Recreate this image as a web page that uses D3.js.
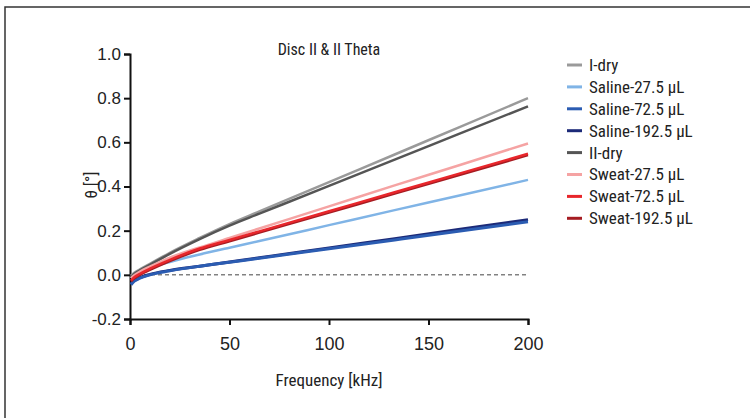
<!DOCTYPE html>
<html>
<head>
<meta charset="utf-8">
<script src="https://cdn.jsdelivr.net/npm/d3@7"></script>
<style>
  body { margin: 0; background: #fff; }
  svg { display: block; font-family: "Liberation Sans Narrow", "Roboto Condensed", "Liberation Sans", sans-serif; }
</style>
</head>
<body>
<svg id="chart" width="750" height="418"></svg>
<script>
// frequencies (kHz)
const freq = [0.5, 2, 5, 10, 20, 35, 50, 65, 100, 133, 165, 200]

const seriesNames = ["I-dry", "Saline-27.5 µL", "Saline-72.5 µL", "Saline-192.5 µL",
                     "II-dry", "Sweat-27.5 µL", "Sweat-72.5 µL", "Sweat-192.5 µL"]
const seriesColors = ["#9a9a9a", "#80b4e6", "#2b5cb2", "#1c2a78",
                      "#555555", "#f5a3a3", "#e8262b", "#a51c22"]

const iDry       = [-0.005, 0.008, 0.025, 0.05, 0.1, 0.167, 0.23, 0.287, 0.42, 0.545, 0.667, 0.80]
const saline27   = [-0.015, -0.003, 0.012, 0.03, 0.058, 0.092, 0.123, 0.153, 0.225, 0.293, 0.358, 0.43]
const saline72   = [-0.045, -0.03, -0.015, 0.0, 0.018, 0.039, 0.057, 0.075, 0.118, 0.158, 0.197, 0.24]
const saline192  = [-0.04, -0.027, -0.013, 0.002, 0.02, 0.039, 0.058, 0.077, 0.122, 0.164, 0.205, 0.25]
const iiDry      = [-0.01, 0.003, 0.02, 0.045, 0.095, 0.162, 0.223, 0.277, 0.403, 0.522, 0.637, 0.763]
const sweat27    = [-0.015, -0.003, 0.015, 0.037, 0.078, 0.124, 0.167, 0.21, 0.31, 0.405, 0.495, 0.595]
const sweat72    = [-0.025, -0.012, 0.005, 0.028, 0.068, 0.119, 0.158, 0.197, 0.288, 0.374, 0.457, 0.548]
const sweat192   = [-0.03, -0.017, 0.0, 0.022, 0.062, 0.113, 0.152, 0.191, 0.282, 0.368, 0.451, 0.542]

const seriesValues = [iDry, saline27, saline72, saline192, iiDry, sweat27, sweat72, sweat192]
// paint order: darker variants under their neighbours
const drawOrder = [0, 1, 3, 2, 4, 5, 7, 6]

const xTicks = [0, 50, 100, 150, 200]
const yTicks = [-0.2, 0.0, 0.2, 0.4, 0.6, 0.8, 1.0]

const svg = d3.select("#chart")

// frame (only top and left edges visible)
svg.append("path")
    .attr("d", "M5,418 V7 H750")
    .attr("fill", "none")
    .attr("stroke", "#333")
    .attr("stroke-width", 1.5)

const x = d3.scaleLinear().domain([0, 200]).range([130, 528])
const y = d3.scaleLinear().domain([-0.2, 1.0]).range([319, 54])

const fmtY = d => d3.format(".1f")(d).replace("−", "-")

const xAxis = svg.append("g")
    .attr("transform", "translate(0,319)")
    .call(d3.axisBottom(x).tickValues(xTicks).tickSize(6).tickPadding(12).tickFormat(d3.format("d")))
const yAxis = svg.append("g")
    .attr("transform", "translate(130,0)")
    .call(d3.axisLeft(y).tickValues(yTicks).tickSize(6).tickPadding(3).tickFormat(fmtY))

;[xAxis, yAxis].forEach(a => {
    a.select(".domain").attr("stroke", "#111").attr("stroke-width", 2)
    a.selectAll(".tick line").attr("stroke", "#111").attr("stroke-width", 2)
    a.selectAll(".tick text").attr("fill", "#222").style("font-size", "17px")
})
xAxis.selectAll(".tick text").style("font-size", "18px")

// zero reference line
svg.append("line")
    .attr("x1", x(0)).attr("x2", x(200))
    .attr("y1", y(0)).attr("y2", y(0))
    .attr("stroke", "#444")
    .attr("stroke-width", 1)
    .attr("stroke-dasharray", "4,3")

const line = d3.line()
    .x((d, i) => x(freq[i]))
    .y(d => y(d))
    .curve(d3.curveMonotoneX)

svg.append("g")
    .selectAll("path")
    .data(drawOrder)
    .join("path")
    .attr("d", k => line(seriesValues[k]))
    .attr("fill", "none")
    .attr("stroke", k => seriesColors[k])
    .attr("stroke-width", k => (k == 2 || k == 3) ? 3 : 2.5)

// title + axis labels
svg.append("text")
    .attr("x", 329).attr("y", 55)
    .attr("text-anchor", "middle")
    .attr("fill", "#222")
    .style("font-size", "16px")
    .text("Disc II & II Theta")

svg.append("text")
    .attr("x", 329).attr("y", 386)
    .attr("text-anchor", "middle")
    .attr("fill", "#222")
    .style("font-size", "17px")
    .text("Frequency [kHz]")

svg.append("text")
    .attr("transform", "translate(97,185) rotate(-90)")
    .attr("text-anchor", "middle")
    .attr("fill", "#222")
    .style("font-size", "17px")
    .text("θ [°]")

// legend
const legend = svg.append("g")
    .selectAll("g")
    .data(seriesNames)
    .join("g")
    .attr("transform", (d, i) => `translate(567,${65 + i * 21.9})`)

legend.append("line")
    .attr("x1", 0).attr("x2", 15)
    .attr("stroke", (d, i) => seriesColors[i])
    .attr("stroke-width", 3)

legend.append("text")
    .attr("x", 22).attr("dy", "0.35em")
    .attr("fill", "#222")
    .style("font-size", "17px")
    .text(d => d)
</script>
</body>
</html>
